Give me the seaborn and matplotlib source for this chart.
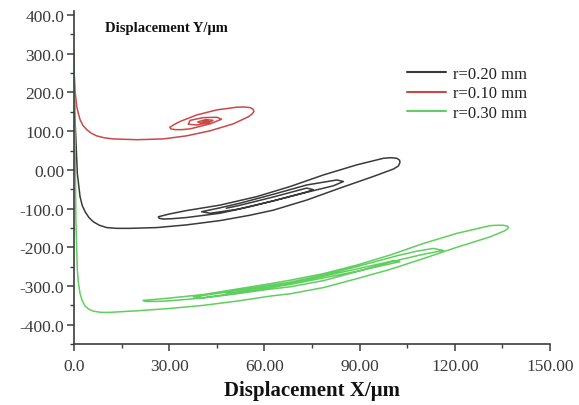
import matplotlib
matplotlib.use("Agg")
import matplotlib.pyplot as plt
import seaborn as sns
import pandas as pd
from matplotlib.ticker import FixedLocator, FixedFormatter

# ---- data ----
series_names = ["r=0.20 mm", "r=0.10 mm", "r=0.30 mm"]
series_colors = ["#3a3a3a", "#cc4848", "#5fcf5f"]

r020_x = [0, 0.2, 0.6, 1.05, 1.9, 2.6, 3.5, 4.7, 6.1, 8.0, 10.3, 13.5, 17.6, 26.1, 35.5, 46, 55.5,
          62.8, 73.3, 83.8, 94.3, 100.6, 102.2, 102.7, 102.6, 101.7, 99.8, 97.5, 89.1, 78.6, 68.1,
          57.6, 46, 35.5, 30.0, 26.6, 26.8, 28.1, 31.0, 35.5, 46, 55.5, 62.8, 73.3, 81.7, 84.9,
          82.8, 73.3, 62.8, 52.3, 46, 40.2, 42.9, 51.3, 62.8, 73.3, 75.4, 73.3, 62.8, 52, 48]
r020_y = [280, 150, 78, -9, -69, -92, -108, -123, -134, -143, -149, -151, -151, -149, -142, -131, -117,
          -104, -78, -47, -17, 2, 10, 19, 25, 30, 31.5, 30, 13, -13, -43,
          -69, -91, -105, -114, -121, -125, -127, -126, -123, -112, -95, -80, -58, -41, -30,
          -26, -39, -63, -86, -98, -108, -112, -102, -80, -57, -51, -47, -70, -92, -99]

r010_x = [0, 0.3, 0.85, 1.4, 1.9, 2.8, 4.0, 5.4, 7.1, 9.5, 12.3, 19.8, 28.1, 35.5, 42.9, 50.2,
          54.9, 56.2, 56.7, 56.4, 55.5, 53.5, 51.3, 45.0, 38.7, 33.4, 31.5, 30.2, 30.5, 31.8, 34.0,
          36.6, 42.9, 46.5, 45, 40.7, 36.6, 36.0, 38.7, 42.5, 43.8, 41.5, 39, 40, 42.5, 41.5, 40.5]
r010_y = [259, 207, 164, 145, 130, 115, 104, 95, 88, 83, 80, 78, 80, 88, 101, 119,
          137, 145, 151, 157, 161, 162.5, 162, 155, 142, 125, 117, 110, 106, 104, 104,
          106, 119, 131, 136, 135, 128, 118, 116, 122, 128, 130, 124, 121, 125, 127, 124]

r030_x = [0, 0.3, 0.6, 1.05, 1.4, 1.9, 2.6, 3.5, 4.7, 6.1, 8.5, 11.3, 19.8, 30.2, 40.7, 51.3, 61.8,
          68.1, 78.6, 89.1, 99.6, 110.1, 120.6, 131.1, 135.8, 136.6, 136.9, 136.5, 135.3, 133.3,
          131.1, 120.6, 110.1, 99.6, 89.1, 78.6, 68.1, 61.8, 51.3, 40.7, 30.2, 25.0, 21.8, 22.2,
          23.9, 27.0, 30.2, 40.7, 51.3, 61.8, 68.1, 78.6, 89.1, 99.6, 110.1, 116.4, 113.2, 108,
          101.7, 89.1, 78.6, 68.1, 51.3, 37.6, 40.7, 51.3, 68.1, 89.1, 102.7, 101, 89.1, 68.1, 50, 48]
r030_y = [311, 100, -130, -259, -292, -319, -338, -352, -360, -365, -368, -368, -364, -358, -350, -339, -326,
          -320, -304, -281, -257, -229, -200, -173, -157, -152, -148, -145, -143, -143,
          -144, -164, -190, -220, -246, -268, -285, -294, -308, -322, -331, -335, -337, -339.5,
          -340, -339.5, -338, -331, -320, -308, -302, -286, -263, -238, -218, -208, -203, -210,
          -222, -250, -272, -290, -312, -328, -330, -318, -296, -262, -237, -234, -256, -293, -318, -318]

x_ticks = [0, 30, 60, 90, 120, 150]
x_tick_labels = ["0.0", "30.00", "60.00", "90.00", "120.00", "150.00"]
y_ticks = [400, 300, 200, 100, 0, -100, -200, -300, -400]
y_tick_labels = ["400.0", "300.0", "200.0", "100.0", "0.00", "-100.0", "-200.0", "-300.0", "-400.0"]

# ---- build table ----
frames = []
for name, xs, ys in zip(series_names, [r020_x, r010_x, r030_x], [r020_y, r010_y, r030_y]):
    frames.append(pd.DataFrame({"x": xs, "y": ys, "series": name, "order": range(len(xs))}))
df = pd.concat(frames, ignore_index=True)

sns.set_theme(style="ticks")
plt.rcParams["font.family"] = ["Liberation Serif", "DejaVu Serif"]
plt.rcParams["lines.solid_joinstyle"] = "round"
plt.rcParams["lines.solid_capstyle"] = "round"

fig = plt.figure(figsize=(5.79, 4.06), dpi=100)
ax = fig.add_axes([0.1278, 0.150, 0.8222, 0.820])

sns.lineplot(data=df, x="x", y="y", hue="series", hue_order=series_names,
             palette=dict(zip(series_names, series_colors)), sort=False,
             estimator=None, linewidth=1.1, ax=ax, legend=True)

ax.set_xlim(0, 150)
ax.set_ylim(-450, 410)

ax.xaxis.set_major_locator(FixedLocator(x_ticks))
ax.xaxis.set_major_formatter(FixedFormatter(x_tick_labels))
ax.yaxis.set_major_locator(FixedLocator(y_ticks))
ax.yaxis.set_major_formatter(FixedFormatter(y_tick_labels))
ax.xaxis.set_minor_locator(FixedLocator([15, 45, 75, 105, 135]))
ax.yaxis.set_minor_locator(FixedLocator([350, 250, 150, 50, -50, -150, -250, -350, -450]))

for s in ["top", "right"]:
    ax.spines[s].set_visible(False)
for s in ["left", "bottom"]:
    ax.spines[s].set_color("#3c3c3c")
    ax.spines[s].set_linewidth(1.2)

ax.tick_params(axis="both", which="major", direction="out", length=5, width=1.1,
               colors="#3c3c3c", labelsize=12.5, labelcolor="#3a3a3a", pad=2)
ax.tick_params(axis="both", which="minor", direction="out", length=3, width=1.0,
               colors="#3c3c3c")
ax.tick_params(axis="x", which="major", pad=5)

ax.set_xlabel("Displacement X/\u03bcm", fontsize=15, fontweight="bold", color="#111111", labelpad=4)
ax.set_ylabel("")
ax.text(0.065, 0.95, "Displacement Y/\u03bcm", transform=ax.transAxes, fontsize=10.5,
        fontweight="bold", color="#111111", va="center", ha="left")

leg = ax.legend(loc="upper left", bbox_to_anchor=(0.685, 0.855), frameon=False,
                fontsize=12, handlelength=2.35, handletextpad=0.45, labelspacing=0.2,
                borderaxespad=0)
for line in leg.get_lines():
    line.set_linewidth(1.5)
for t in leg.get_texts():
    t.set_color("#222222")

fig.savefig("out.png", dpi=100, facecolor="white")
